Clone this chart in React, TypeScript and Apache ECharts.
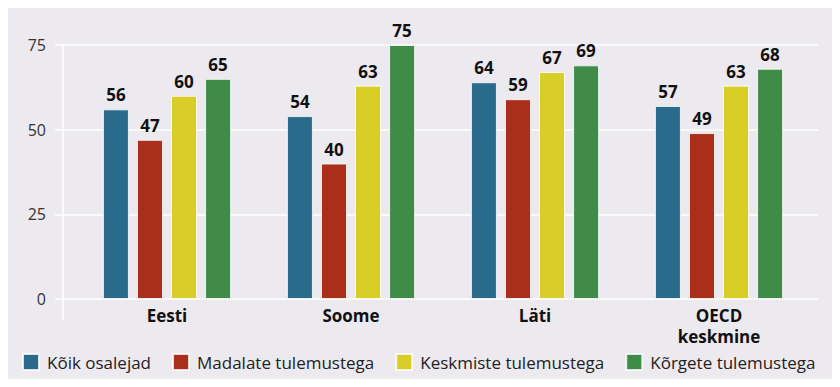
import React, { useEffect, useRef } from "react";
import * as echarts from "echarts";

const categories = ["Eesti", "Soome", "Läti", "OECD\nkeskmine"];
const seriesNames = ["Kõik osalejad", "Madalate tulemustega", "Keskmiste tulemustega", "Kõrgete tulemustega"];
const koik = [56, 54, 64, 57];
const madalate = [47, 40, 59, 49];
const keskmiste = [60, 63, 67, 63];
const korgete = [65, 75, 69, 68];
const colors = ["#2a6a8b", "#a92f1b", "#d9cd28", "#3f8c49"];
const yTicks = [0, 25, 50, 75];

export default function App() {
  const ref = useRef<HTMLDivElement>(null);
  useEffect(() => {
    if (!ref.current) return;
    const chart = echarts.init(ref.current, null, { renderer: "svg" });
    const values = [koik, madalate, keskmiste, korgete];
    const font = "'Open Sans', 'Noto Sans', sans-serif";
    chart.setOption({
      animation: false,
      backgroundColor: "#ece9ef",
      textStyle: { fontFamily: font },
      grid: [
        { left: 55, right: 22, top: 45, bottom: 88 },
        { left: 75, right: 29, top: 45, bottom: 88 },
      ],
      xAxis: [
        { type: "category", gridIndex: 0, data: categories, show: false },
        {
          type: "category",
          gridIndex: 1,
          data: categories,
          axisLine: { show: false },
          axisTick: { show: false },
          axisLabel: {
            color: "#111",
            fontWeight: "bold",
            fontSize: 17,
            fontFamily: font,
            margin: 6,
            lineHeight: 21,
          },
        },
      ],
      yAxis: [
        {
          type: "value",
          gridIndex: 0,
          min: yTicks[0],
          max: yTicks[yTicks.length - 1],
          interval: 25,
          axisLabel: { show: false },
          axisLine: { show: false },
          axisTick: { show: false },
          splitLine: { show: true, lineStyle: { color: "#ffffff", width: 1.5 } },
        },
        {
          type: "value",
          gridIndex: 1,
          min: yTicks[0],
          max: yTicks[yTicks.length - 1],
          interval: 25,
          offset: 12,
          axisLine: { show: false },
          axisTick: { show: false },
          splitLine: { show: false },
          axisLabel: { color: "#333", fontSize: 16, fontFamily: font, margin: 17 },
        },
      ],
      legend: {
        bottom: 11,
        left: 17,
        itemWidth: 16,
        itemHeight: 16,
        itemGap: 21,
        icon: "rect",
        textStyle: { color: "#222", fontSize: 17, fontFamily: font, padding: [0, 0, 0, 3] },
        data: seriesNames,
      },
      graphic: [
        {
          type: "line",
          shape: { x1: 63, y1: 44, x2: 63, y2: 320 },
          style: { stroke: "#ffffff", lineWidth: 1.5 },
        },
      ],
      series: seriesNames.map((name, i) => ({
        name,
        type: "bar",
        xAxisIndex: 1,
        yAxisIndex: 1,
        data: values[i],
        barWidth: 26,
        barGap: "31%",
        itemStyle: { color: colors[i], borderColor: "rgba(255,255,255,0.8)", borderWidth: 1 },
        label: {
          show: true,
          position: "top",
          distance: 6,
          color: "#111",
          fontWeight: "bold",
          fontSize: 17,
          fontFamily: font,
        },
      })),
    });
    return () => chart.dispose();
  }, []);
  return <div ref={ref} style={{ width: 840, height: 387, margin: -8 }} />;
}
